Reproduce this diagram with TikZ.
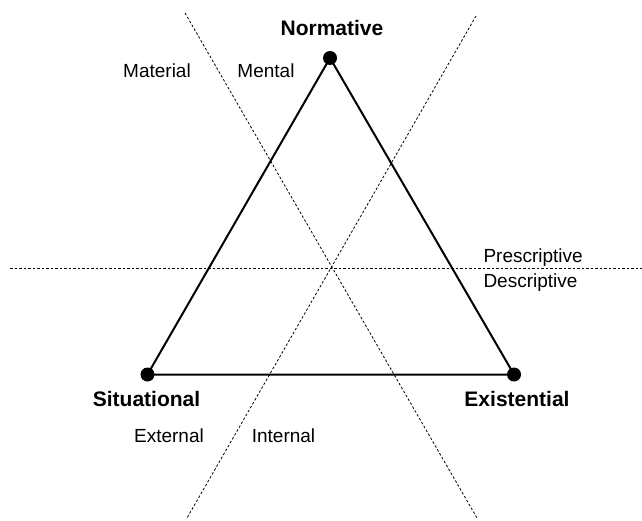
\documentclass[tikz,border=0pt]{standalone}
\usepackage{fontspec}
\setmainfont{Liberation Sans}
\begin{document}
\begin{tikzpicture}[x=1pt,y=-1pt,
  vertex/.style={circle,fill=black,inner sep=0pt,minimum size=14pt},
  side/.style={line width=2pt},
  axis/.style={line width=0.8pt,dash pattern=on 2.5pt off 2pt},
  lab/.style={font=\fontsize{19}{22}\selectfont,inner sep=0pt,anchor=base},
  blab/.style={font=\fontsize{21}{24}\selectfont\bfseries,inner sep=0pt,anchor=base}]
\useasboundingbox (0,0) rectangle (642,521);
\node[vertex] (N) at (330,58) {};
\node[vertex] (S) at (147.5,374.5) {};
\node[vertex] (E) at (514,374.5) {};
\draw[side] (N.center) -- (S.center) -- (E.center) -- cycle;
\coordinate (a1) at (185,13);
\coordinate (a2) at (477,518);
\coordinate (b1) at (476,16);
\coordinate (b2) at (187,518);
\coordinate (h1) at (10,268);
\coordinate (h2) at (642,268);
\draw[axis] (a1) -- (a2);
\draw[axis] (b1) -- (b2);
\draw[axis] (h1) -- (h2);
\node[blab] (tN) at (332,36) {Normative};
\node[blab] (tS) at (146.5,406) {Situational};
\node[blab] (tE) at (517,406) {Existential};
\node[lab] (mat) at (157,77.3) {Material};
\node[lab] (men) at (266,77.3) {Mental};
\node[lab] (ext) at (169,442.3) {External};
\node[lab] (int) at (283.5,442.3) {Internal};
\node[lab,anchor=base west] (pre) at (483.3,262.3) {Prescriptive};
\node[lab,anchor=base west] (des) at (483.3,287.3) {Descriptive};
\end{tikzpicture}
\end{document}
